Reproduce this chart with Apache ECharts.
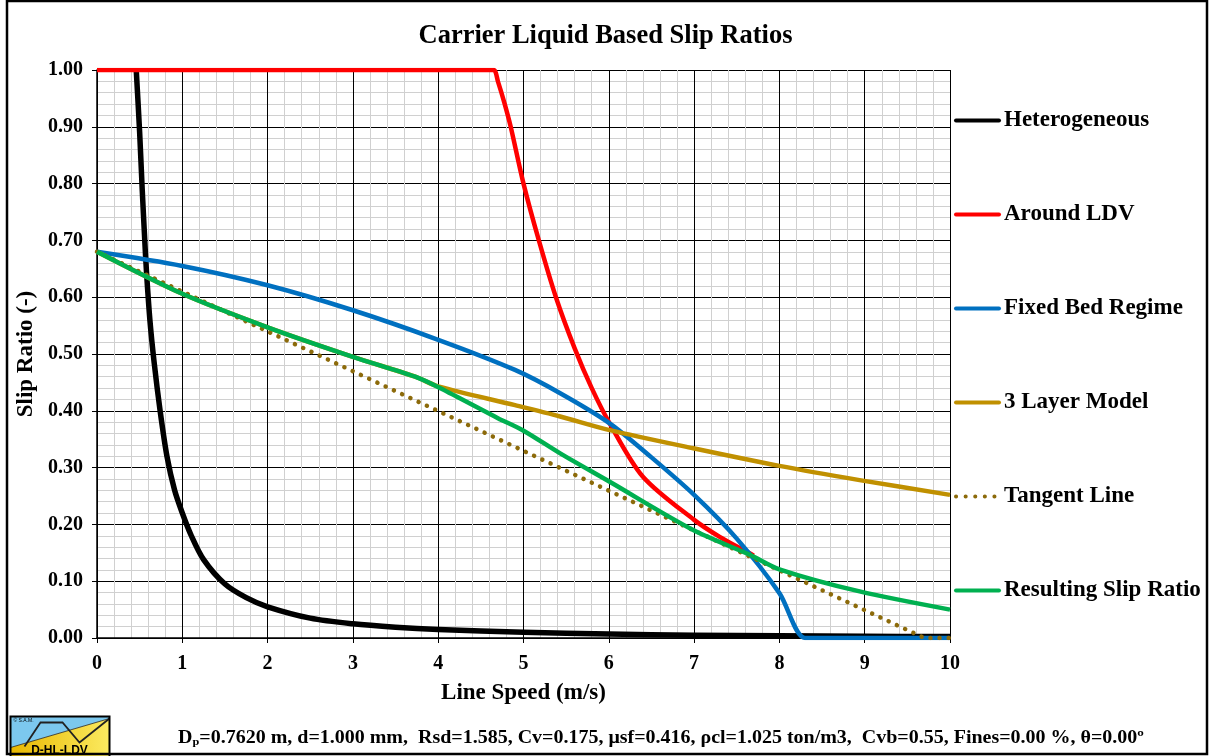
<!DOCTYPE html>
<html><head><meta charset="utf-8">
<script src="https://cdn.jsdelivr.net/npm/echarts@6/dist/echarts.min.js"></script>
<style>html,body{margin:0;padding:0;background:#fff}#c{width:1211px;height:756px}</style>
</head><body><div id="c"></div>
<script>
// ---------- data ----------
const chartTitle = 'Carrier Liquid Based Slip Ratios';
const xAxisTitle = 'Line Speed (m/s)';
const yAxisTitle = 'Slip Ratio (-)';
const seriesNames = ['Heterogeneous', 'Around LDV', 'Fixed Bed Regime', '3 Layer Model', 'Tangent Line', 'Resulting Slip Ratio'];
const seriesColors = ['#000000', '#FF0000', '#0070C0', '#C09000', '#8C6A0A', '#00B050'];

const heteroX = [0.46, 0.50, 0.53, 0.56, 0.58, 0.62, 0.67, 0.74, 0.82, 0.91, 1.00, 1.10, 1.25, 1.50, 1.75, 2.00, 2.50, 3.00, 3.50, 4.00, 5.00, 6.00, 7.00, 8.00, 9.00, 10.00];
const heteroY = [1.00, 0.89, 0.79, 0.70, 0.645, 0.56, 0.485, 0.40, 0.32, 0.26, 0.22, 0.182, 0.138, 0.095, 0.071, 0.055, 0.035, 0.025, 0.019, 0.015, 0.010, 0.007, 0.005, 0.0038, 0.003, 0.0025];

const ldvX = [0.00, 2.00, 4.00, 4.50, 4.65, 4.70, 4.78, 4.85, 5.00, 5.18, 5.38, 5.60, 5.80, 6.01, 6.40, 7.00, 7.30, 7.60, 7.70];
const ldvY = [1.00, 1.00, 1.00, 1.00, 1.00, 0.98, 0.94, 0.90, 0.80, 0.70, 0.60, 0.51, 0.44, 0.378, 0.284, 0.208, 0.178, 0.153, 0.145];

const fixedX = [0.00, 1.00, 2.00, 3.00, 4.00, 4.90, 5.43, 6.01, 6.50, 7.00, 7.50, 8.00, 8.30, 8.50, 9.00, 10.00];
const fixedY = [0.68, 0.655, 0.621, 0.577, 0.525, 0.472, 0.431, 0.378, 0.318, 0.252, 0.175, 0.079, 0.000, 0.000, 0.000, 0.000];

const layerX = [0.00, 1.00, 2.00, 3.00, 3.73, 4.00, 4.90, 5.43, 6.01, 6.99, 8.00, 8.94, 10.00];
const layerY = [0.68, 0.606, 0.547, 0.495, 0.460, 0.443, 0.410, 0.390, 0.366, 0.334, 0.303, 0.278, 0.252];

const tangentX = [0.00, 9.70, 10.00];
const tangentY = [0.68, 0.00, 0.00];

const resultX = [0.00, 1.00, 2.00, 3.00, 3.73, 4.02, 4.70, 5.00, 5.43, 6.01, 6.99, 7.66, 8.00, 8.94, 10.00];
const resultY = [0.68, 0.606, 0.547, 0.495, 0.460, 0.440, 0.387, 0.365, 0.325, 0.275, 0.190, 0.146, 0.121, 0.082, 0.050];

const footerParts = ['D', 'p', '=0.7620 m, d=1.000 mm,  Rsd=1.585, Cv=0.175, \u03bcsf=0.416, \u03c1cl=1.025 ton/m3,  Cvb=0.55, Fines=0.00 %, \u03b8=0.00\u00ba'];
const logoText = 'D-HL-LDV';
const logoCopy = '\u00a9 S.A.M.';

// ---------- chart ----------
const zip = (xs, ys) => xs.map((x, i) => [x, ys[i]]);
const serif = 'Liberation Serif';

const lineData = [
  zip(heteroX, heteroY), zip(ldvX, ldvY), zip(fixedX, fixedY),
  zip(layerX, layerY), zip(tangentX, tangentY), zip(resultX, resultY)
];
const widths = [5.5, 4.5, 4.5, 4.5, 4.5, 4.5];

const series = seriesNames.map((name, i) => ({
  name, type: 'line', data: lineData[i], symbol: 'none', showSymbol: false,
  smooth: i === 4 ? false : 0.3,
  lineStyle: i === 4
    ? { color: seriesColors[i], width: 4.5, type: [0.1, 9], cap: 'round' }
    : { color: seriesColors[i], width: widths[i], cap: 'butt', join: 'round' },
  itemStyle: { color: seriesColors[i] },
  z: 2 + i, animation: false
}));

const legendData = seriesNames.map((name, i) => ({
  name,
  lineStyle: i === 4
    ? { color: seriesColors[i], width: 4, type: [0.1, 9.5], cap: 'round' }
    : { color: seriesColors[i], width: 4, type: 'solid', cap: 'round' },
  itemStyle: { color: 'rgba(0,0,0,0)', opacity: 0, borderWidth: 0 }
}));

const chart = echarts.init(document.getElementById('c'), null, { renderer: 'canvas' });
chart.setOption({
  animation: false,
  backgroundColor: '#fff',
  title: {
    text: chartTitle, left: 'center', top: 18,
    textStyle: { fontFamily: serif, fontWeight: 'bold', fontSize: 26.5, color: '#000' }
  },
  grid: { left: 97, right: 261, top: 70, bottom: 118, containLabel: false },
  legend: {
    orient: 'vertical', left: 954, top: 109, padding: 0,
    itemWidth: 43, itemHeight: 14, itemGap: 71,
    data: legendData,
    itemStyle: { color: 'rgba(0,0,0,0)', opacity: 0, borderWidth: 0 },
    textStyle: { fontFamily: serif, fontWeight: 'bold', fontSize: 23, color: '#000', lineHeight: 23, padding: [0, 0, 0, 0] },
    selectedMode: false
  },
  xAxis: {
    type: 'value', min: 0, max: 10, interval: 1,
    name: xAxisTitle, nameLocation: 'middle', nameGap: 44,
    nameTextStyle: { fontFamily: serif, fontWeight: 'bold', fontSize: 23, color: '#000' },
    axisLine: { show: true, onZero: false, lineStyle: { color: '#000', width: 1.5 } },
    axisTick: { show: true, length: 5, lineStyle: { color: '#000' } },
    axisLabel: { fontFamily: serif, fontWeight: 'bold', fontSize: 20, color: '#000', margin: 16 },
    splitLine: { show: true, lineStyle: { color: '#000', width: 1 } },
    minorTick: { show: false, splitNumber: 5 },
    minorSplitLine: { show: true, lineStyle: { color: '#d0d0d0', width: 1 } }
  },
  yAxis: {
    type: 'value', min: 0, max: 1, interval: 0.1,
    name: yAxisTitle, nameLocation: 'middle', nameGap: 55,
    nameTextStyle: { fontFamily: serif, fontWeight: 'bold', fontSize: 23, color: '#000' },
    axisLine: { show: true, lineStyle: { color: '#000', width: 1.5 } },
    axisTick: { show: true, length: 5, lineStyle: { color: '#000' } },
    axisLabel: { fontFamily: serif, fontWeight: 'bold', fontSize: 20, color: '#000', margin: 14,
      formatter: v => v.toFixed(2) },
    splitLine: { show: true, lineStyle: { color: '#000', width: 1 } },
    minorTick: { show: false, splitNumber: 5 },
    minorSplitLine: { show: true, lineStyle: { color: '#d0d0d0', width: 1 } }
  },
  series,
  graphic: [
    { type: 'rect', shape: { x: 7, y: 1, width: 1200, height: 753 }, style: { fill: 'none', stroke: '#000', lineWidth: 2.5 }, silent: true, z: 100 },
    { type: 'group', left: 8, top: 714, z: 100, children: [
      { type: 'polygon', shape: { points: [[0,0],[99,0],[99,2],[0,31]] }, style: { fill: '#7CC8EE' } },
      { type: 'polygon', shape: { points: [[0,31],[99,2],[99,41],[0,41]] },
        style: { fill: new echarts.graphic.LinearGradient(0, 0, 1, 0, [{ offset: 0, color: '#E8B800' }, { offset: 1, color: '#FBEA60' }]) } },
      { type: 'polyline', shape: { points: [[14,30],[30,6],[52,6],[69,26],[99,2]] }, style: { stroke: '#222', lineWidth: 1.8, fill: 'none' } },
      { type: 'polyline', shape: { points: [[0,31],[99,2]] }, style: { stroke: '#222', lineWidth: 0.8, fill: 'none' } },
      { type: 'text', style: { text: logoCopy, x: 3, y: 2, fontSize: 5, fontFamily: 'Liberation Sans', fill: '#000' } },
      { type: 'text', style: { text: logoText, x: 49, y: 34, fontSize: 12, fontWeight: 'bold', fontFamily: 'Liberation Sans', fill: '#000', align: 'center', verticalAlign: 'middle' } },
      { type: 'rect', shape: { x: 0, y: 0, width: 99, height: 41 }, style: { fill: 'none', stroke: '#000', lineWidth: 2 } }
    ]},
    { type: 'text', z: 100, x: 661, y: 738, scaleX: 1.11, style: {
        x: 0, y: 0, align: 'center', verticalAlign: 'middle',
        text: '{a|' + footerParts[0] + '}{s|' + footerParts[1] + '}{a|' + footerParts[2] + '}',
        rich: {
          a: { fontFamily: serif, fontWeight: 'bold', fontSize: 18, fill: '#000' },
          s: { fontFamily: serif, fontWeight: 'bold', fontSize: 11, fill: '#000', padding: [8, 0, 0, 0] }
        }
    }}
  ]
});
</script></body></html>
